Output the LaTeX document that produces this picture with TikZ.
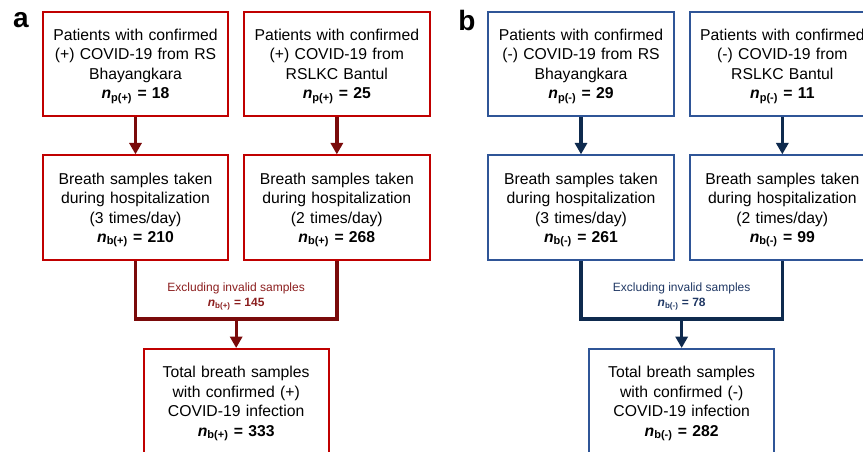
\documentclass[tikz,border=0pt]{standalone}
\usepackage{fontspec}
\setmainfont{Liberation Sans}
\usetikzlibrary{arrows.meta,positioning}
\definecolor{posred}{HTML}{C00000}
\definecolor{posdark}{HTML}{7A0A0A}
\definecolor{posnote}{HTML}{8B1E1E}
\definecolor{negblue}{HTML}{2F5597}
\definecolor{negdark}{HTML}{0E2A4E}
\definecolor{negnote}{HTML}{203864}
\newcommand{\ncount}[2]{\textbf{\textit{n}\smash{\textsubscript{#1}} = #2}}

\begin{document}
\begin{tikzpicture}[x=0.75pt,y=0.75pt,
  box/.style={draw,line width=1.5pt,align=center,text width=134pt,
    minimum width=139pt,minimum height=78.5pt,inner sep=0pt,
    font=\fontsize{11.8}{14.6}\selectfont},
  posbox/.style={box,draw=posred},
  negbox/.style={box,draw=negblue},
  flow/.style={line width=2.5pt,-{Triangle[length=8.5pt,width=9pt]}},
  joint/.style={line width=2.5pt},
  note/.style={align=center,inner sep=1pt,font=\fontsize{9}{11.6}\selectfont},
  panel/.style={font=\fontsize{21}{24}\selectfont\bfseries},
  node distance=27.75pt and 10.5pt]
\useasboundingbox (0,0) rectangle (863,-452);
\clip (0,0) rectangle (863,-452);

% panel a: confirmed positive
\node[panel] (alabel) at (21,-20) {a};
\node[posbox] (a1) at (135.5,-64) {Patients with confirmed\\(+) COVID-19 from RS\\Bhayangkara\\\ncount{p(+)}{18}};
\node[posbox,right=of a1] (a2) {Patients with confirmed\\(+) COVID-19 from\\RSLKC Bantul\\\ncount{p(+)}{25}};
\node[posbox,below=of a1] (a3) {Breath samples taken\\during hospitalization\\(3 times/day)\\\ncount{b(+)}{210}};
\node[posbox,below=of a2] (a4) {Breath samples taken\\during hospitalization\\(2 times/day)\\\ncount{b(+)}{268}};
\draw[flow,posdark] (a1) -- (a3);
\draw[flow,posdark] (a2) -- (a4);
\draw[joint,posdark] (a3.south) -- ++(0,-58) coordinate (abend) -| coordinate[pos=0.25] (ajoin) (a4.south);
\node[note,text=posnote,above=8pt of ajoin] (anote) {Excluding invalid samples\\\ncount{b(+)}{145}};
\node[posbox,below=21.75pt of ajoin] (a5) {Total breath samples\\with confirmed (+)\\COVID-19 infection\\\ncount{b(+)}{333}};
\draw[flow,posdark] (ajoin) -- (a5);

% panel b: confirmed negative
\node[panel] (blabel) at (467,-20) {b};
\node[negbox] (b1) at (581,-64) {Patients with confirmed\\(-) COVID-19 from RS\\Bhayangkara\\\ncount{p(-)}{29}};
\node[negbox,right=of b1] (b2) {Patients with confirmed\\(-) COVID-19 from\\RSLKC Bantul\\\ncount{p(-)}{11}};
\node[negbox,below=of b1] (b3) {Breath samples taken\\during hospitalization\\(3 times/day)\\\ncount{b(-)}{261}};
\node[negbox,below=of b2] (b4) {Breath samples taken\\during hospitalization\\(2 times/day)\\\ncount{b(-)}{99}};
\draw[flow,negdark] (b1) -- (b3);
\draw[flow,negdark] (b2) -- (b4);
\draw[joint,negdark] (b3.south) -- ++(0,-58) coordinate (bbend) -| coordinate[pos=0.25] (bjoin) (b4.south);
\node[note,text=negnote,above=8pt of bjoin] (bnote) {Excluding invalid samples\\\ncount{b(-)}{78}};
\node[negbox,below=21.75pt of bjoin] (b5) {Total breath samples\\with confirmed (-)\\COVID-19 infection\\\ncount{b(-)}{282}};
\draw[flow,negdark] (bjoin) -- (b5);
\end{tikzpicture}
\end{document}
